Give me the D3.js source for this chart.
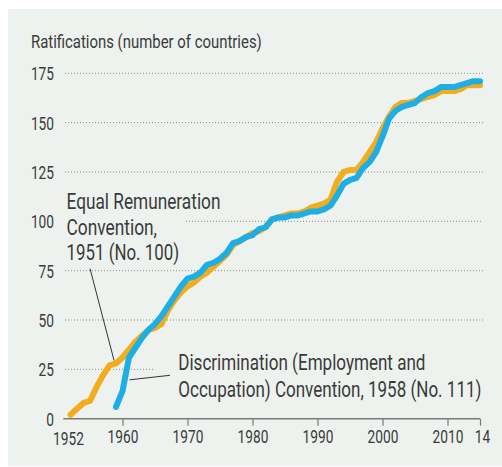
<!DOCTYPE html>
<html>
<head>
<meta charset="utf-8">
<script src="https://cdn.jsdelivr.net/npm/d3@7"></script>
<style>
  html, body { margin: 0; padding: 0; background: #fff; }
  svg text { font-family: Roboto, "Noto Sans", sans-serif; fill: #3a3a3a; }
</style>
</head>
<body>
<svg id="chart" width="502" height="467"></svg>
<script>
// Ratifications of ILO Conventions No. 100 and No. 111, by year
const yearsC100 = d3.range(1952, 2016);
const valuesC100 = [
  2, 5, 8, 9, 16, 22, 27, 28, 31, 35,
  39, 42, 45, 46, 48, 55, 60, 64, 67, 69,
  72, 74, 77, 80, 83, 88, 90, 92, 94, 95,
  97, 101, 102, 103, 104, 104, 105, 107, 108, 109,
  111, 120, 125, 126, 126, 130, 135, 140, 147, 153,
  158, 160, 160, 161, 162, 163, 164, 166, 166, 166,
  167, 169, 169, 169
];
const yearsC111 = d3.range(1959, 2016);
const valuesC111 = [
  6, 14, 31, 36, 41, 45, 48, 52, 57, 62,
  67, 71, 72, 74, 78, 79, 81, 84, 89, 90,
  92, 93, 96, 97, 101, 102, 102, 103, 103, 104,
  105, 105, 106, 108, 113, 119, 121, 122, 127, 130,
  135, 143, 152, 156, 158, 159, 160, 163, 165, 166,
  168, 168, 168, 169, 170, 171, 171
];
const yTicks = [25, 50, 75, 100, 125, 150, 175];
const yTickLabels = ["0", "25", "50", "75", "100", "125", "150", "175"];
const xTicks = [1960, 1970, 1980, 1990, 2000, 2010];
const xTickLabels = ["1960", "1970", "1980", "1990", "2000", "2010"];
const firstYearLabel = "1952";
const lastYearLabel = "14";
const titleText = "Ratifications (number of countries)";
const labelC100 = ["Equal Remuneration", "Convention,", "1951 (No. 100)"];
const labelC111 = ["Discrimination (Employment and", "Occupation) Convention, 1958 (No. 111)"];

const svg = d3.select("#chart");
const W = 502, H = 467;

// condensed look: squeeze a text horizontally about its anchor to a set width
const DIGIT_W = 7.7;
function squeeze(textSel, width) {
  const node = textSel.node();
  const natural = node.getComputedTextLength();
  const ax = +textSel.attr("x") || 0;
  const s = width / natural;
  textSel.attr("transform", `translate(${ax},0) scale(${s},1) translate(${-ax},0)`);
}

const x = d3.scaleLinear().domain([1951, 2015]).range([64, 480]);
const y = d3.scaleLinear().domain([0, 175]).range([418.7, 73.3]);

// panel background
svg.append("rect").attr("x", 8).attr("y", 9).attr("width", W - 8).attr("height", 457)
  .attr("fill", "#edf2ee");

// title
svg.append("text").attr("x", 31).attr("y", 48).attr("font-size", 17.5)
  .text(titleText).call(squeeze, 231);

// dotted gridlines; two are shortened so the labels stay clear
const gridExtent = {
  100: [186, 483],
  25: [65, 155]
};
svg.append("g").selectAll("line").data(yTicks).join("line")
  .attr("x1", d => (gridExtent[d] || [65, 483])[0])
  .attr("x2", d => (gridExtent[d] || [65, 483])[1])
  .attr("y1", d => y(d)).attr("y2", d => y(d))
  .attr("stroke", "#8a8a8a").attr("stroke-width", 1)
  .attr("stroke-dasharray", "1,2");

// y tick labels
svg.append("g").selectAll("text").data([0].concat(yTicks)).join("text")
  .attr("x", 54).attr("y", d => y(d) + 7)
  .attr("text-anchor", "end").attr("font-size", 17.5)
  .text((d, i) => yTickLabels[i])
  .each(function(d, i) { squeeze(d3.select(this), yTickLabels[i].length * DIGIT_W); });

// x axis
const xAxis = d3.axisBottom(x)
  .tickValues(xTicks.concat([2015]))
  .tickFormat((d, i) => i < xTicks.length ? xTickLabels[i] : lastYearLabel)
  .tickSize(7).tickSizeOuter(0).tickPadding(5);
const gx = svg.append("g").attr("transform", `translate(0,${y(0)})`).call(xAxis);
gx.select(".domain").attr("stroke", "#7a7a7a").attr("stroke-width", 1.4)
  .attr("d", `M${x.range()[0] - 0.7},0H${x.range()[1]}`);
gx.selectAll(".tick line").attr("stroke", "#7a7a7a").attr("stroke-width", 1.2);
gx.selectAll(".tick text").attr("font-size", 17.5).attr("fill", "#3a3a3a")
  .style("font-family", "Roboto, \"Noto Sans\", sans-serif");
gx.selectAll(".tick").filter(d => d === 2015).select("text").attr("x", 2);
gx.selectAll(".tick text").each(function() {
  const t = d3.select(this);
  squeeze(t, t.text().length * DIGIT_W);
});
gx.append("text").attr("x", x(1952) - 2).attr("y", 26.5)
  .attr("text-anchor", "middle").attr("font-size", 17.5).text(firstYearLabel)
  .call(squeeze, firstYearLabel.length * DIGIT_W);

// series lines
const line = d3.line().x(d => x(d[0])).y(d => y(d[1]));
const seriesC100 = yearsC100.map((yr, i) => [yr, valuesC100[i]]);
const seriesC111 = yearsC111.map((yr, i) => [yr, valuesC111[i]]);

svg.append("path").datum(seriesC100).attr("d", line)
  .attr("fill", "none").attr("stroke", "#f2ac1e").attr("stroke-width", 6)
  .attr("stroke-linejoin", "round").attr("stroke-linecap", "round");
svg.append("path").datum(seriesC111).attr("d", line)
  .attr("fill", "none").attr("stroke", "#1eaee4").attr("stroke-width", 6)
  .attr("stroke-linejoin", "round").attr("stroke-linecap", "round");

// annotation: Convention No. 100
const widthsC100 = [154, 90.6, 112.6];
const baseC100 = [209.5, 235, 260];
labelC100.forEach((t, i) => {
  svg.append("text").attr("x", 66.5).attr("y", baseC100[i]).attr("font-size", 21.5)
    .text(t).call(squeeze, widthsC100[i]);
});
svg.append("line")
  .attr("x1", 90).attr("y1", 268.5)
  .attr("x2", x(1958.7)).attr("y2", y(29.5))
  .attr("stroke", "#333").attr("stroke-width", 1);

// annotation: Convention No. 111
const widthsC111 = [247.4, 303.4];
const baseC111 = [370, 396.7];
labelC111.forEach((t, i) => {
  svg.append("text").attr("x", 178.3).attr("y", baseC111[i]).attr("font-size", 21.5)
    .text(t).call(squeeze, widthsC111[i]);
});
svg.append("line")
  .attr("x1", 170).attr("y1", 375.3)
  .attr("x2", x(1961.1)).attr("y2", y(19.7))
  .attr("stroke", "#333").attr("stroke-width", 1);
</script>
</body>
</html>
